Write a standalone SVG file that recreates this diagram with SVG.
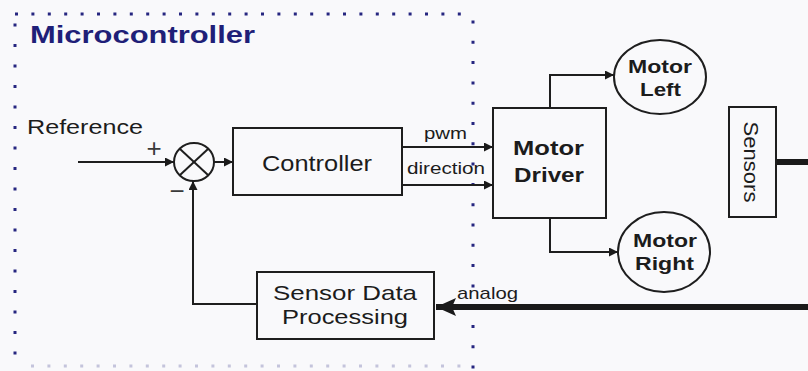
<svg xmlns="http://www.w3.org/2000/svg" width="808" height="371" viewBox="0 0 808 371">
<defs>
<marker id="ah" markerUnits="userSpaceOnUse" markerWidth="10" markerHeight="10" refX="9" refY="4.5" orient="auto">
<path d="M0,0 L9,4.5 L0,9 z" fill="#1a1a1a"/>
</marker>
<marker id="ahBig" markerUnits="userSpaceOnUse" markerWidth="22" markerHeight="20" refX="20" refY="9" orient="auto">
<path d="M0,0 L20,9 L0,18 L4,9 z" fill="#1a1a1a"/>
</marker>
</defs>
<style>
.box{fill:none;stroke:#1e1e1e;stroke-width:2}
.wire{fill:none;stroke:#1e1e1e;stroke-width:2}
.thick{fill:none;stroke:#1a1a1a;stroke-width:6}
.dot{stroke:#262680;stroke-width:3;fill:none}
.t{font-family:"Liberation Sans",Arial,sans-serif;fill:#1c1c1c}
.b{font-weight:bold}
</style>
<rect width="808" height="371" fill="#f9f9fb"/>

<g id="microcontroller-boundary">
<line class="dot" x1="15" y1="14" x2="470" y2="14" stroke-dasharray="3 13.4"/>
<line class="dot" x1="15" y1="23.5" x2="15" y2="371" stroke-dasharray="3 17.5"/>
<line class="dot" x1="473" y1="20.5" x2="473" y2="371" stroke-dasharray="3 17.3"/>
<line class="dot" x1="31" y1="366" x2="470" y2="366" stroke-dasharray="3 13.4" opacity="0.25"/>
<text class="t b" x="30" y="43" font-size="23" style="fill:#1f1f78" textLength="225" lengthAdjust="spacingAndGlyphs">Microcontroller</text>
</g>

<g id="connectors">
<line class="wire" x1="78" y1="162" x2="174" y2="162" marker-end="url(#ah)"/>
<line class="wire" x1="214" y1="162" x2="233" y2="162" marker-end="url(#ah)"/>
<line class="wire" x1="402" y1="147" x2="493" y2="147" marker-end="url(#ah)"/>
<line class="wire" x1="402" y1="185" x2="493" y2="185" marker-end="url(#ah)"/>
<path class="wire" d="M550,108 V75 H614" marker-end="url(#ah)"/>
<path class="wire" d="M550,218 V252 H618" marker-end="url(#ah)"/>
<path class="wire" d="M257,304 H193 V181" marker-end="url(#ah)"/>
<line class="thick" x1="776" y1="162" x2="808" y2="162"/>
<line class="thick" x1="808" y1="307" x2="436" y2="307" marker-end="url(#ahBig)"/>
<text class="t" x="27" y="134" font-size="21" textLength="116" lengthAdjust="spacingAndGlyphs">Reference</text>
<text class="t" x="154" y="157" font-size="26" text-anchor="middle" style="fill:#3a3a3a">+</text>
<text class="t" x="177" y="200" font-size="26" text-anchor="middle" style="fill:#3a3a3a">−</text>
<text class="t" x="424" y="139" font-size="17" textLength="43" lengthAdjust="spacingAndGlyphs">pwm</text>
<text class="t" x="407" y="174" font-size="16" textLength="78" lengthAdjust="spacingAndGlyphs">direction</text>
<text class="t" x="457" y="299" font-size="17" textLength="61" lengthAdjust="spacingAndGlyphs">analog</text>
</g>

<g id="sum">
<ellipse cx="194" cy="162" rx="20" ry="19" class="box"/>
<line class="wire" x1="180" y1="149" x2="208" y2="175"/>
<line class="wire" x1="208" y1="149" x2="180" y2="175"/>
</g>

<g id="controller">
<rect class="box" x="233" y="128" width="169" height="67"/>
<text class="t" x="262" y="171" font-size="22" textLength="110" lengthAdjust="spacingAndGlyphs">Controller</text>
</g>

<g id="motor-driver">
<rect class="box" x="493" y="108" width="113" height="110"/>
<text class="t b" x="513" y="155" font-size="21" textLength="71" lengthAdjust="spacingAndGlyphs">Motor</text>
<text class="t b" x="514" y="182" font-size="21" textLength="70" lengthAdjust="spacingAndGlyphs">Driver</text>
</g>

<g id="motor-left">
<ellipse class="box" cx="660" cy="77" rx="46" ry="37"/>
<text class="t b" x="628" y="73" font-size="18" textLength="64" lengthAdjust="spacingAndGlyphs">Motor</text>
<text class="t b" x="640" y="96" font-size="18" textLength="41" lengthAdjust="spacingAndGlyphs">Left</text>
</g>

<g id="motor-right">
<ellipse class="box" cx="664" cy="252" rx="46" ry="40"/>
<text class="t b" x="633" y="247" font-size="18" textLength="64" lengthAdjust="spacingAndGlyphs">Motor</text>
<text class="t b" x="635" y="270" font-size="18" textLength="59" lengthAdjust="spacingAndGlyphs">Right</text>
</g>

<g id="sensors">
<rect class="box" x="729" y="107" width="47" height="110"/>
<text class="t" transform="translate(744,162) rotate(90)" x="0" y="0" font-size="21" text-anchor="middle" textLength="81" lengthAdjust="spacingAndGlyphs">Sensors</text>
</g>

<g id="sensor-data-processing">
<rect class="box" x="257" y="272" width="177" height="67"/>
<text class="t" x="273" y="300" font-size="21" textLength="144" lengthAdjust="spacingAndGlyphs">Sensor Data</text>
<text class="t" x="282" y="324" font-size="21" textLength="126" lengthAdjust="spacingAndGlyphs">Processing</text>
</g>
</svg>
